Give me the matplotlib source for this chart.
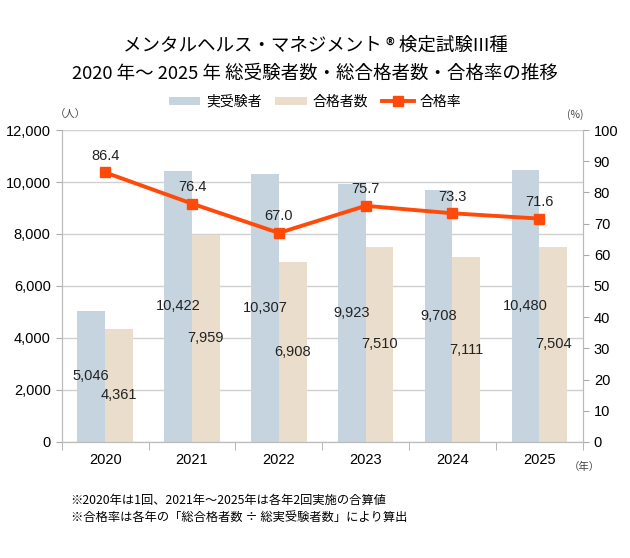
import matplotlib
matplotlib.use("Agg")
import matplotlib.pyplot as plt
import numpy as np

plt.rcParams['font.family'] = ['Noto Sans CJK JP', 'DejaVu Sans']

years = ["2020", "2021", "2022", "2023", "2024", "2025"]
examinees = [5046, 10422, 10307, 9923, 9708, 10480]
passers = [4361, 7959, 6908, 7510, 7111, 7504]
pass_rate = [86.4, 76.4, 67.0, 75.7, 73.3, 71.6]

blue = "#C5D4DF"
beige = "#EBDDCB"
orange = "#FF4A0A"
grid_c = "#D0D0D0"
num_font = ["Liberation Sans", "DejaVu Sans"]

fig = plt.figure(figsize=(6.3, 5.58), dpi=100)
ax = fig.add_axes([0.098, 0.208, 0.827, 0.559])
ax2 = ax.twinx()

x = np.arange(len(years))
w = 0.32
b1 = ax.bar(x - w / 2, examinees, w, color=blue, zorder=2)
b2 = ax.bar(x + w / 2, passers, w, color=beige, zorder=2)

# value labels at the middle of each bar (nudge the lower one when they collide)
for xi, v, p in zip(x, examinees, passers):
    ax.text(xi - w / 2, v / 2, f"{v:,}", ha="center", va="center",
            fontsize=10.5, family=num_font, color="#222222", zorder=3)
    dy = -10 if abs(v - p) / 2 < 500 else 0
    ax.annotate(f"{p:,}", (xi + w / 2, p / 2), xytext=(0, dy), textcoords="offset pixels",
                ha="center", va="center", fontsize=10.5, family=num_font,
                color="#222222", zorder=3)

ax.set_xlim(-0.5, len(years) - 0.5)
ax.set_ylim(0, 12000)
ax.set_yticks(range(0, 12001, 2000))
ax.set_yticklabels([f"{t:,}" for t in range(0, 12001, 2000)], family=num_font, fontsize=10.5)
ax.yaxis.grid(True, color=grid_c, lw=1, zorder=0)
ax.set_axisbelow(True)
ax.set_xticks(x)
ax.set_xticklabels(years, family=num_font, fontsize=10.5)
ax.tick_params(axis="x", length=0, pad=8)
ax.set_xticks(np.arange(-0.5, len(years), 1), minor=True)
ax.tick_params(axis="x", which="minor", length=6, color="#AAAAAA")
ax.tick_params(axis="y", length=4, color="#AAAAAA", pad=4)

ln, = ax2.plot(x, pass_rate, color=orange, lw=2.8, marker="s", markersize=7.5, zorder=4)
for xi, v in zip(x, pass_rate):
    ax2.annotate(f"{v:.1f}", (xi, v), xytext=(0, 7), textcoords="offset points",
                 ha="center", va="bottom", fontsize=10.5, family=num_font, color="#222222")
ax2.set_ylim(0, 100)
ax2.set_yticks(range(0, 101, 10))
ax2.set_yticklabels([str(t) for t in range(0, 101, 10)], family=num_font, fontsize=10.5)
ax2.tick_params(axis="y", length=4, color="#AAAAAA", pad=4)

for a in (ax, ax2):
    a.spines["top"].set_visible(False)
    for s in ("left", "right", "bottom"):
        a.spines[s].set_color("#BBBBBB")

fig.text(0.5, 0.918, "メンタルヘルス・マネジメント ® 検定試験III種", ha="center", va="center", fontsize=13.3)
fig.text(0.5, 0.868, "2020 年～ 2025 年 総受験者数・総合格者数・合格率の推移", ha="center", va="center", fontsize=13.3)

fig.legend([b1, b2, ln], ["実受験者", "合格者数", "合格率"], loc="center", bbox_to_anchor=(0.5, 0.818),
           ncol=3, frameon=False, fontsize=10, handlelength=2.3, handleheight=0.5,
           handletextpad=0.4, columnspacing=1.0)

fig.text(0.112, 0.794, "（人）", ha="center", va="center", fontsize=7.5, color="#444444")
fig.text(0.913, 0.794, "(%)", ha="center", va="center", fontsize=7.5, color="#444444")
fig.text(0.928, 0.163, "（年）", ha="center", va="center", fontsize=7.5, color="#444444")

fig.text(0.112, 0.103, "※2020年は1回、2021年～2025年は各年2回実施の合算値", ha="left", va="center", fontsize=8.8)
fig.text(0.112, 0.072, "※合格率は各年の「総合格者数 ÷ 総実受験者数」により算出", ha="left", va="center", fontsize=8.8)

fig.savefig("out.png", dpi=100)
